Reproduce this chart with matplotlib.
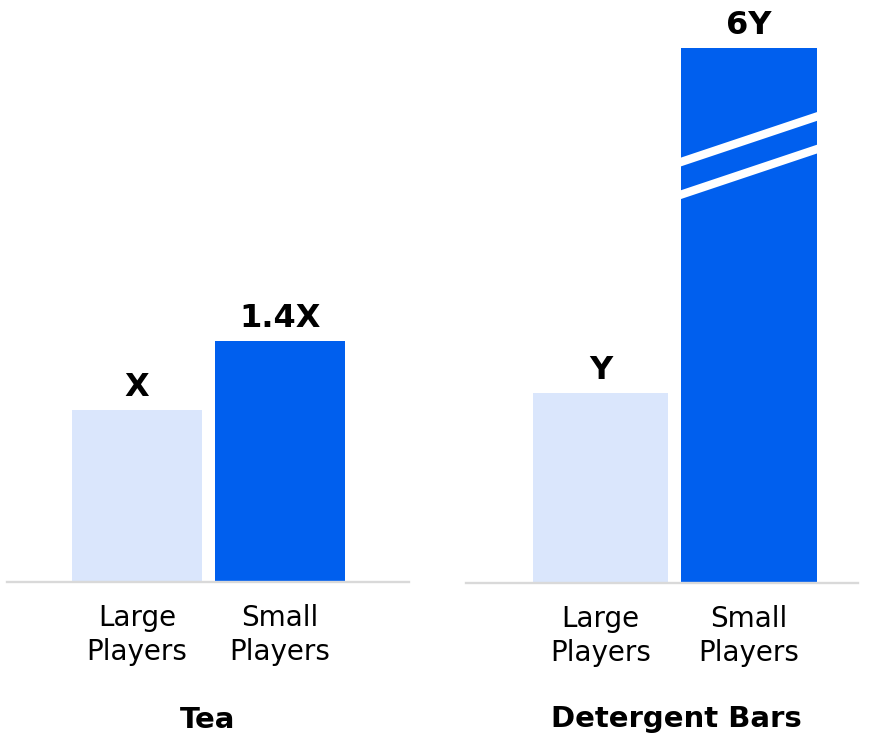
import matplotlib
matplotlib.use("Agg")
import matplotlib.pyplot as plt
import matplotlib.transforms as mtransforms
import numpy as np

# Relative volume index, large vs small players, per category
categories = ["Large\nPlayers", "Small\nPlayers"]
tea_values = [1.0, 1.4]
tea_labels = ["X", "1.4X"]
bars_values = [1.0, 6.0]
bars_labels = ["Y", "6Y"]
panel_titles = ["Tea", "Detergent Bars"]

LIGHT = "#DAE6FC"
DARK = "#005FEE"
AXIS_GREY = "#D9D9D9"

plt.rcParams.update({
    "font.family": ["DejaVu Sans"],
    "axes.spines.top": False,
    "axes.spines.right": False,
    "axes.spines.left": False,
})

# broken scale for the detergent panel: linear up to BREAK, compressed above
BREAK = 2.0
K = 0.204


def fwd(v):
    v = np.asarray(v, dtype=float)
    return np.where(v <= BREAK, v, BREAK + (v - BREAK) * K)


def inv(s):
    s = np.asarray(s, dtype=float)
    return np.where(s <= BREAK, s, BREAK + (s - BREAK) / K)


def style_axis(ax, xlim):
    ax.set_xlim(*xlim)
    ax.set_yticks([])
    ax.spines["bottom"].set_color(AXIS_GREY)
    ax.spines["bottom"].set_linewidth(1.7)
    ax.set_xticks([0, 1])
    ax.set_xticklabels(categories, fontsize=20, linespacing=1.27)
    ax.tick_params(axis="x", length=0, pad=16)


def label_bars(ax, rects, labels):
    for r, lab in zip(rects, labels):
        ax.annotate(lab, (r.get_x() + r.get_width() / 2, r.get_height()),
                    xytext=(0, 10), textcoords="offset points",
                    ha="center", va="baseline", fontsize=23,
                    fontweight="bold", color="black")


fig = plt.figure(figsize=(8.74, 7.35), dpi=100)
ax1 = fig.add_axes([7 / 874, 1 - 582 / 735, 402 / 874, 562 / 735])
ax2 = fig.add_axes([466 / 874, 1 - 583 / 735, 392 / 874, 563 / 735])

# ---- Tea ----
r1 = ax1.bar([0, 1], tea_values, width=0.909, color=[LIGHT, DARK])
ax1.set_ylim(0, 562 / 172)
style_axis(ax1, (-0.909, 1.902))
label_bars(ax1, r1, tea_labels)

# ---- Detergent bars (broken tall bar) ----
ax2.set_yscale("function", functions=(fwd, inv))
r2 = ax2.bar([0, 1], bars_values, width=0.912, color=[LIGHT, DARK])
ax2.set_ylim(0, float(inv(563 / 190)))
style_axis(ax2, (-0.906, 1.734))
label_bars(ax2, r2, bars_labels)

# two white slanted cuts across the tall bar
tall = r2[1]
x0 = tall.get_x()
x1 = x0 + tall.get_width()
trans = mtransforms.blended_transform_factory(ax2.transData, ax2.transAxes)
rise = (0.7735 - 0.693) / (x1 - x0)
for y_left in (0.690, 0.748):
    xs = np.array([x0 - 0.2, x1 + 0.2])
    ys = y_left + rise * (xs - x0)
    ln, = ax2.plot(xs, ys, color="white", lw=6.0, transform=trans,
                   solid_capstyle="butt", zorder=3)
    ln.set_clip_path(tall)

# category titles under each panel
fig.text(208 / 874, 1 - 728 / 735, panel_titles[0], ha="center",
         va="baseline", fontsize=21, fontweight="bold")
fig.text(676 / 874, 1 - 727 / 735, panel_titles[1], ha="center",
         va="baseline", fontsize=21, fontweight="bold")

fig.savefig("out.png", dpi=100)
